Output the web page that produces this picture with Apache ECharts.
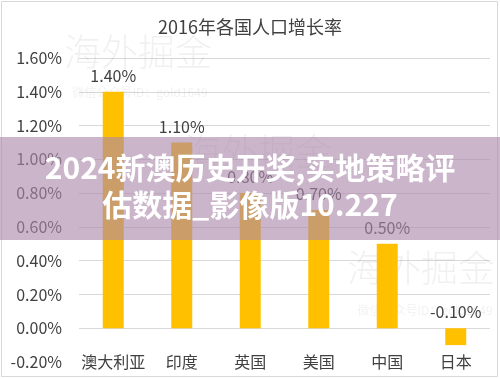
<!DOCTYPE html>
<html>
<head>
<meta charset="utf-8">
<script src="https://cdn.jsdelivr.net/npm/echarts@6/dist/echarts.min.js"></script>
<style>
html,body{margin:0;padding:0;background:#fff;}
#c{width:500px;height:379px;}
</style>
</head>
<body>
<div id="c"></div>
<script>
var titleText = '2016年各国人口增长率';
var categories = ['澳大利亚', '印度', '英国', '美国', '中国', '日本'];
var growthRates = [1.40, 1.10, 0.80, 0.70, 0.50, -0.10];
var yMin = -0.2, yMax = 1.6, yStep = 0.2;
var bannerLines = ['2024新澳历史开奖,实地策略评', '估数据_影像版10.227'];
var watermarkMain = '海外掘金';
var watermarkSub = '微信公众号ID：gold1649';

var FONT = '"Noto Sans CJK SC", "Noto Sans", sans-serif';
var chart = echarts.init(document.getElementById('c'), null, {renderer: 'canvas'});

var gridColors = ['rgba(0,0,0,0)'];
for (var i = 1; i < 10; i++) gridColors.push('#d9d9d9');

function wm(x, y, size) {
  return {
    type: 'text', x: x, y: y, z: 1, silent: true,
    style: {text: watermarkMain, fontFamily: FONT, fontSize: size, fontWeight: 300, fill: 'rgba(0,0,0,0.06)', align: 'center', verticalAlign: 'middle'}
  };
}
function wmSub(x, y) {
  return {
    type: 'text', x: x, y: y, z: 1, silent: true,
    style: {text: watermarkSub, fontFamily: FONT, fontSize: 12, fill: 'rgba(0,0,0,0.06)', align: 'center', verticalAlign: 'middle'}
  };
}
function bannerText(t, y) {
  return {
    type: 'text', z: 101, x: 250, y: y, silent: true,
    style: {text: t, fontFamily: FONT, fontSize: 30, fontWeight: 'bold', fill: '#ffffff', align: 'center', verticalAlign: 'middle',
      shadowColor: 'rgba(0,0,0,0.3)', shadowBlur: 3, shadowOffsetX: 1, shadowOffsetY: 1}
  };
}

chart.setOption({
  backgroundColor: '#ffffff',
  animation: false,
  title: {
    text: titleText, left: 'center', top: 13,
    textStyle: {fontFamily: FONT, fontSize: 18, fontWeight: 'normal', color: '#404040'}
  },
  grid: {left: 79, right: 10, top: 58, bottom: 17, containLabel: false},
  xAxis: {
    type: 'category', data: categories,
    axisLine: {show: false, onZero: false},
    axisTick: {show: false},
    axisLabel: {interval: 0, fontFamily: FONT, fontSize: 16, color: '#404040', margin: 0, verticalAlign: 'middle', lineHeight: 16}
  },
  yAxis: {
    type: 'value', min: yMin, max: yMax, interval: yStep,
    axisLine: {show: false}, axisTick: {show: false},
    splitLine: {show: true, lineStyle: {color: gridColors, width: 1}},
    axisLabel: {
      fontFamily: FONT, fontSize: 16, color: '#404040', margin: 17,
      formatter: function (v) { return v.toFixed(2) + '%'; }
    }
  },
  series: [{
    type: 'bar',
    data: growthRates,
    barWidth: 21,
    itemStyle: {color: '#FFC000'},
    label: {
      show: true, position: 'top', distance: 8,
      fontFamily: FONT, fontSize: 16, color: '#404040',
      formatter: function (p) { return p.value.toFixed(2) + '%'; }
    }
  }],
  graphic: [
    wm(138, 52, 37), wmSub(140, 92),
    wm(258, 152, 37),
    wm(421, 268, 37), wmSub(425, 310),
    {
      type: 'rect', z: 50, silent: true,
      shape: {x: 1.5, y: 1.5, width: 496, height: 375},
      style: {fill: 'none', stroke: '#d9d9d9', lineWidth: 1}
    },
    {
      type: 'rect', z: 100, silent: true,
      shape: {x: 0, y: 137, width: 500, height: 103},
      style: {fill: 'rgba(170,136,170,0.62)'}
    },
    bannerText(bannerLines[0], 168),
    bannerText(bannerLines[1], 205)
  ]
});
</script>
</body>
</html>
